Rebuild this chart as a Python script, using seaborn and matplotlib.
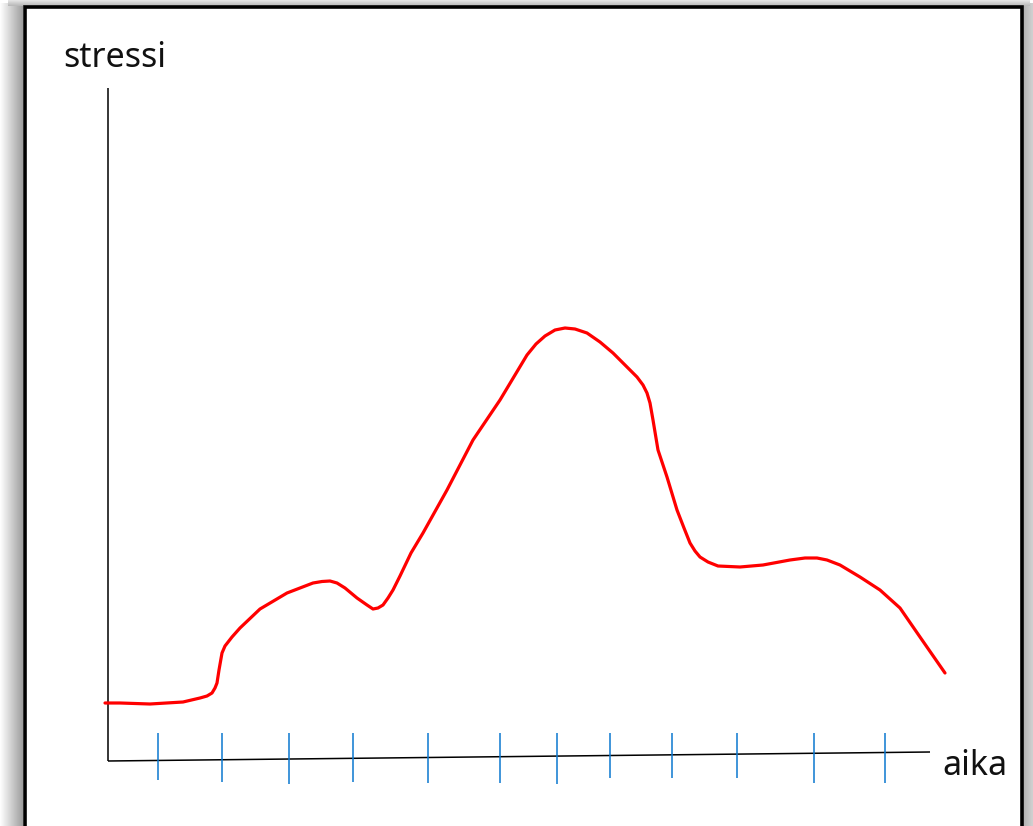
import numpy as np
import pandas as pd
import matplotlib
matplotlib.use("Agg")
import matplotlib.pyplot as plt
import seaborn as sns
from matplotlib.patches import Rectangle

# ---- data (time "aika" vs stress "stressi", arbitrary units) ----
aika = [-0.3, 1.2, 4.2, 7.5, 9.2, 9.9, 10.4, 10.7, 10.9, 11.1, 11.4, 11.7, 12.4, 13.2, 15.2,
        17.9, 20.5, 21.4, 22.2, 22.9, 23.7, 24.9, 25.9, 26.5, 27.0, 27.5, 28.0, 28.5, 29.2, 30.3,
        31.5, 33.9, 36.5, 39.2, 41.9, 42.8, 43.7, 44.7, 45.7, 46.7, 47.9, 49.2, 50.5, 51.7, 52.9,
        53.5, 53.9, 54.2, 54.5, 55.0, 55.9, 56.9, 57.6, 58.2, 58.7, 59.2, 60.0, 61.0, 63.2, 65.5,
        68.2, 69.7, 70.9, 71.9, 73.2, 75.2, 77.2, 79.2, 81.2, 83.7]
stressi = [5.8, 5.8, 5.7, 5.9, 6.3, 6.5, 6.8, 7.3, 7.8, 9.1, 10.8, 11.5, 12.4, 13.3, 15.2,
           16.8, 17.8, 17.95, 18.0, 17.8, 17.3, 16.3, 15.6, 15.2, 15.3, 15.6, 16.3, 17.1, 18.5, 20.8,
           22.8, 27.1, 32.1, 36.1, 40.6, 41.7, 42.5, 43.1, 43.3, 43.2, 42.8, 41.9, 40.8, 39.6, 38.4,
           37.6, 36.8, 35.8, 34.1, 31.1, 28.4, 25.1, 23.3, 21.8, 21.0, 20.4, 19.9, 19.5, 19.4, 19.6,
           20.1, 20.3, 20.3, 20.1, 19.6, 18.4, 17.1, 15.3, 12.4, 8.8]

tick_pos = [5.0, 11.4, 18.1, 24.5, 32.0, 39.2, 44.9, 50.2, 56.4, 62.9, 70.6, 77.7]
tick_top = [2.8] * 12
tick_bottom = [-1.9, -2.1, -2.3, -2.1, -2.2, -2.2, -2.3, -1.7, -1.7, -1.7, -2.2, -2.2]

yaxis_x = [0.0, 0.0]
yaxis_y = [67.3, 0.0]
xaxis_x = [0.0, 82.2]
xaxis_y = [0.0, 0.9]

y_label = "stressi"
x_label = "aika"

df = pd.DataFrame({"aika": aika, "stressi": stressi})

sns.set_theme(style="white")
plt.rcParams["font.family"] = ["Noto Sans", "DejaVu Sans"]

W, H = 1033, 826
fig = plt.figure(figsize=(W / 100, H / 100), dpi=100)
fig.patch.set_facecolor("white")

# ---- background frame with shadow ----
bg = fig.add_axes([0, 0, 1, 1])
bg.set_xlim(0, W)
bg.set_ylim(H, 0)
bg.axis("off")
grad_l = np.linspace(1.0, 0.62, 64).reshape(1, -1)
bg.imshow(np.repeat(grad_l, 2, axis=0), cmap="gray", vmin=0, vmax=1,
          extent=[0, 23, H, 3], aspect="auto", interpolation="bilinear", zorder=0)
grad_r = np.linspace(0.68, 0.82, 32).reshape(1, -1)
bg.imshow(np.repeat(grad_r, 2, axis=0), cmap="gray", vmin=0, vmax=1,
          extent=[1022, W, H, 3], aspect="auto", interpolation="bilinear", zorder=0)
grad_t = np.linspace(0.9, 0.72, 16).reshape(-1, 1)
bg.imshow(np.repeat(grad_t, 2, axis=1), cmap="gray", vmin=0, vmax=1,
          extent=[8, 1030, 6, 0], aspect="auto", interpolation="bilinear", zorder=0)
bg.add_patch(Rectangle((24.5, 6.5), 997, 830, facecolor="white",
                       edgecolor="black", linewidth=2.6, zorder=1))

# ---- main drawing axes ----
ax = fig.add_axes([0, 0, 1, 1])
ax.set_xlim(-10.8, 92.5)
ax.set_ylim(-6.5, 76.1)
ax.patch.set_alpha(0)
ax.axis("off")

ax.plot(yaxis_x, yaxis_y, color="black", linewidth=1.1, solid_capstyle="butt")
ax.plot(xaxis_x, xaxis_y, color="black", linewidth=1.1, solid_capstyle="butt")

ax.vlines(tick_pos, tick_bottom, tick_top, color="#0b78d0", linewidth=1.1)

sns.lineplot(data=df, x="aika", y="stressi", ax=ax, color="#ff0000",
             linewidth=2.3, sort=False, estimator=None,
             solid_joinstyle="round", solid_capstyle="round")
ax.set_xlabel("")
ax.set_ylabel("")

ax.text(-4.5, 69.4, y_label, fontsize=24.5, color="#111111", ha="left", va="baseline")
ax.text(83.4, -1.4, x_label, fontsize=24.5, color="#111111", ha="left", va="baseline")

fig.savefig("out.png", dpi=100)
